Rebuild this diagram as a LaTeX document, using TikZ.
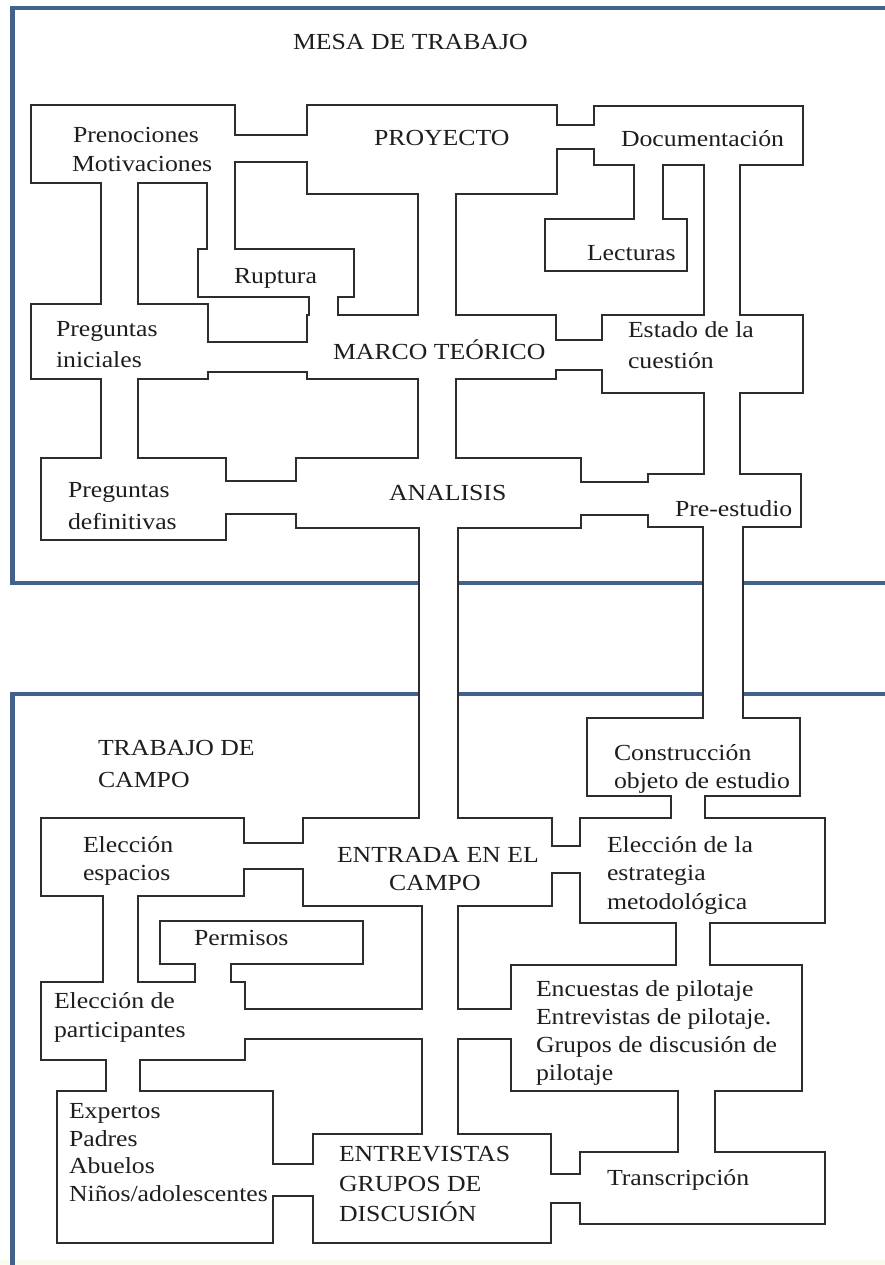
\documentclass[tikz,border=0pt]{standalone}
\usepackage{fontspec}
\setmainfont{Liberation Serif}[FakeStretch=1.12]
\usetikzlibrary{calc}
\definecolor{panelblue}{RGB}{66,98,140}
\definecolor{ink}{RGB}{30,30,30}
\definecolor{edge}{RGB}{45,45,45}
\definecolor{cream}{RGB}{251,250,238}
\tikzset{
  box/.style={inner sep=0pt, outer sep=0pt, anchor=north west, draw=none},
  lbl/.style={inner sep=0pt, outer sep=0pt, anchor=base west, text=ink,
              font=\fontsize{23}{28}\selectfont},
  panel/.style={draw=panelblue, line width=4.5pt},
}
% a box: name, x, y (top left), width, height
\newcommand\boxnode[5]{\node[box, minimum width=#4pt, minimum height=#5pt] (#1) at (#2,#3) {};}
% the area of a box, painted with the given options
\newcommand\brect[2]{\path[#2] (#1.north west) rectangle (#1.south east);}
% horizontal channel: y1, y2, left box, right box, options
\newcommand\hch[5]{\path[#5] ($(#3.east |- 0,#1)+(-3,0)$) rectangle ($(#4.west |- 0,#2)+(3,0)$);}
% vertical channel: x1, x2, upper box, lower box, options
\newcommand\vch[5]{\path[#5] ($(#1,0 |- #3.south)+(0,-3)$) rectangle ($(#2,0 |- #4.north)+(0,3)$);}
% one line of text: name, x, baseline, text
\newcommand\tline[4]{\node[lbl] (#1) at (#2,#3) {#4};}

% every box and channel, painted with one set of options
\newcommand\network[1]{%
  \brect{pren}{#1}\brect{proy}{#1}\brect{docu}{#1}\brect{lect}{#1}
  \brect{rupt}{#1}\brect{pini}{#1}\brect{marco}{#1}\brect{estado}{#1}
  \brect{pdef}{#1}\brect{anal}{#1}\brect{pre}{#1}
  \brect{constr}{#1}\brect{entr}{#1}\brect{eestr}{#1}\brect{eesp}{#1}
  \brect{perm}{#1}\brect{epart}{#1}\brect{encu}{#1}\brect{expe}{#1}
  \brect{entv}{#1}\brect{trans}{#1}
  % horizontal channels
  \hch{136}{161}{pren}{proy}{#1}
  \hch{126}{148}{proy}{docu}{#1}
  \hch{343}{371}{pini}{marco}{#1}
  \hch{341}{369}{marco}{estado}{#1}
  \hch{482}{513}{pdef}{anal}{#1}
  \hch{483}{514}{anal}{pre}{#1}
  \hch{844}{868}{eesp}{entr}{#1}
  \hch{847}{872}{entr}{eestr}{#1}
  \hch{1010}{1038}{epart}{encu}{#1}
  \hch{1165}{1195}{expe}{entv}{#1}
  \hch{1175}{1202}{entv}{trans}{#1}
  % vertical channels
  \vch{102}{137}{pren}{pini}{#1}
  \vch{208}{234}{pren}{rupt}{#1}
  \vch{419}{455}{proy}{marco}{#1}
  \vch{310}{337}{rupt}{marco}{#1}
  \vch{635}{662}{docu}{lect}{#1}
  \vch{705}{739}{docu}{estado}{#1}
  \vch{102}{137}{pini}{pdef}{#1}
  \vch{419}{455}{marco}{anal}{#1}
  \vch{705}{739}{estado}{pre}{#1}
  \vch{420}{457}{anal}{entr}{#1}
  \vch{704}{742}{pre}{constr}{#1}
  \vch{672}{704}{constr}{eestr}{#1}
  \vch{104}{137}{eesp}{epart}{#1}
  \vch{196}{230}{perm}{epart}{#1}
  \vch{423}{457}{entr}{entv}{#1}
  \vch{677}{709}{eestr}{encu}{#1}
  \vch{107}{139}{epart}{expe}{#1}
  \vch{679}{714}{encu}{trans}{#1}
}

\begin{document}
\begin{tikzpicture}[x=1pt, y=-1pt]
\useasboundingbox (0,0) rectangle (885,1265);
\clip (0,0) rectangle (885,1265);
\fill[cream] (0,1260) rectangle (885,1265);

% the two panels
\coordinate (pa1) at (900,8);   \coordinate (pa2) at (12.5,8);
\coordinate (pa3) at (12.5,583);\coordinate (pa4) at (900,583);
\coordinate (pb1) at (900,694); \coordinate (pb2) at (12.5,694);
\coordinate (pb3) at (12.5,1280);
\draw[panel] (pa1) -- (pa2) -- (pa3) -- (pa4);
\draw[panel] (pb1) -- (pb2) -- (pb3);

% boxes
\boxnode{pren}{32}{106}{202}{76}
\boxnode{proy}{308}{106}{248}{87}
\boxnode{docu}{595}{107}{207}{57}
\boxnode{lect}{546}{220}{140}{50}
\boxnode{rupt}{199}{250}{154}{46}
\boxnode{pini}{32}{305}{175}{73}
\boxnode{marco}{308}{316}{247}{62}
\boxnode{estado}{603}{316}{199}{76}
\boxnode{pdef}{42}{459}{183}{80}
\boxnode{anal}{297}{459}{283}{68}
\boxnode{pre}{649}{475}{151}{51}
\boxnode{constr}{588}{719}{211}{76}
\boxnode{entr}{304}{819}{247}{86}
\boxnode{eestr}{581}{819}{243}{103}
\boxnode{eesp}{42}{819}{201}{76}
\boxnode{perm}{161}{922}{201}{41}
\boxnode{epart}{42}{983}{202}{76}
\boxnode{encu}{512}{966}{289}{124}
\boxnode{expe}{58}{1092}{214}{150}
\boxnode{entv}{314}{1135}{236}{107}
\boxnode{trans}{581}{1153}{243}{70}

% outline of the whole network: stroke everything, then whiten the insides
\network{draw=edge, line width=3.4pt}
\network{fill=white}

% texts
\tline{t1}{293}{50}{MESA DE TRABAJO}
\tline{t2}{73}{143}{Prenociones}
\tline{t3}{72}{172}{Motivaciones}
\tline{t4}{374}{146}{PROYECTO}
\tline{t5}{621}{147}{Documentación}
\tline{t6}{587}{261}{Lecturas}
\tline{t7}{234}{283}{Ruptura}
\tline{t8}{56}{336}{Preguntas}
\tline{t9}{56}{367}{iniciales}
\tline{t10}{333}{359}{MARCO TEÓRICO}
\tline{t11}{628}{337}{Estado de la}
\tline{t12}{628}{368}{cuestión}
\tline{t13}{68}{497}{Preguntas}
\tline{t14}{68}{529}{definitivas}
\tline{t15}{389}{500}{ANALISIS}
\tline{t16}{675}{516}{Pre-estudio}
\tline{t17}{98}{755}{TRABAJO DE}
\tline{t18}{98}{787}{CAMPO}
\tline{t19}{614}{760}{Construcción}
\tline{t20}{614}{788}{objeto de estudio}
\tline{t21}{83}{852}{Elección}
\tline{t22}{83}{880}{espacios}
\tline{t23}{337}{862}{ENTRADA EN EL}
\tline{t24}{389}{890}{CAMPO}
\tline{t25}{607}{852}{Elección de la}
\tline{t26}{607}{880}{estrategia}
\tline{t27}{607}{909}{metodológica}
\tline{t28}{194}{945}{Permisos}
\tline{t29}{54}{1008}{Elección de}
\tline{t30}{54}{1037}{participantes}
\tline{t31}{536}{996}{Encuestas de pilotaje}
\tline{t32}{536}{1024}{Entrevistas de pilotaje.}
\tline{t33}{536}{1052}{Grupos de discusión de}
\tline{t34}{536}{1080}{pilotaje}
\tline{t35}{69}{1118}{Expertos}
\tline{t36}{69}{1146}{Padres}
\tline{t37}{69}{1173}{Abuelos}
\tline{t38}{69}{1201}{Niños/adolescentes}
\tline{t39}{339}{1161}{ENTREVISTAS}
\tline{t40}{339}{1191}{GRUPOS DE}
\tline{t41}{339}{1221}{DISCUSIÓN}
\tline{t42}{607}{1185}{Transcripción}
\end{tikzpicture}
\end{document}
